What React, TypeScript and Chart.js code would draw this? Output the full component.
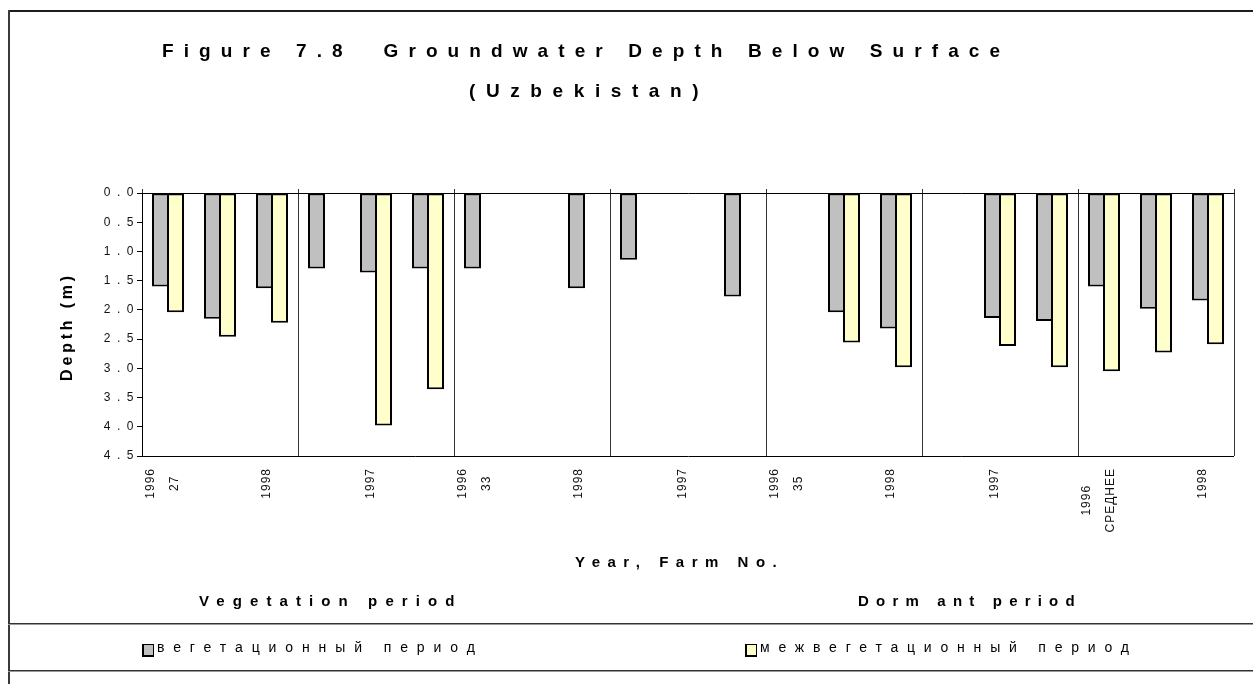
import { useEffect, useRef } from 'react';
import { Chart, registerables } from 'chart.js';

Chart.register(...registerables);

// Category axis: year labels and farm numbers (first category of each farm block)
const yearLabels = [
  '1996', '', '1998', '', '1997', '',
  '1996', '', '1998', '', '1997', '',
  '1996', '', '1998', '', '1997', '',
  '1996', '', '1998',
];
const farmLabels = [
  '27', '', '', '', '', '',
  '33', '', '', '', '', '',
  '35', '', '', '', '', '',
  'СРЕДНЕЕ', '', '',
];

// Groundwater depth below surface, m
const vegetationDepth = [
  1.6, 2.15, 1.63, 1.29, 1.36, 1.29,
  1.29, null, 1.63, 1.14, null, 1.77,
  null, 2.04, 2.32, null, 2.14, 2.19,
  1.6, 1.98, 1.84,
];
const dormantDepth = [
  2.04, 2.46, 2.22, null, 3.98, 3.36,
  null, null, null, null, null, null,
  null, 2.56, 2.98, null, 2.62, 2.98,
  3.05, 2.73, 2.59,
];

const depthTicks = [0, 0.5, 1, 1.5, 2, 2.5, 3, 3.5, 4, 4.5];
const seriesNames = ['вегетационный период', 'межвегетационный период'];

const titleLines = ['Figure 7.8  Groundwater Depth Below Surface', '(Uzbekistan)'];
const axisTitleX = 'Year, Farm No.';
const axisTitleY = 'Depth (m)';
const periodNames = ['Vegetation period', 'Dorm ant period'];

const FONT = '"Liberation Sans", Arial, sans-serif';
const GREY = '#c0c0c0';
const CREAM = '#ffffcc';

const categoryLabels = yearLabels.map((y, i) => (farmLabels[i] ? [y, farmLabels[i]] : y));

// Wide tracking for the value-axis tick text
const spacingPlugin = {
  id: 'spacing',
  beforeDraw(chart: any) {
    chart.ctx.letterSpacing = '6.5px';
  },
  afterDraw(chart: any) {
    chart.ctx.letterSpacing = '0px';
  },
};

// Rotated value-axis title, centred on the plot height
const depthTitlePlugin = {
  id: 'depthTitle',
  afterDraw(chart: any) {
    const { ctx, chartArea } = chart;
    ctx.save();
    ctx.letterSpacing = '3.8px';
    ctx.font = `bold 16px ${FONT}`;
    ctx.fillStyle = '#000';
    ctx.textAlign = 'center';
    ctx.textBaseline = 'middle';
    ctx.translate(68, (chartArea.top + chartArea.bottom) / 2 + 2);
    ctx.rotate(-Math.PI / 2);
    ctx.fillText(axisTitleY, 0, 0);
    ctx.restore();
  },
};

// Vertical category labels under the plot, each label block centred on its longest line
const categoryLabelPlugin = {
  id: 'categoryLabels',
  afterDraw(chart: any) {
    const { ctx, chartArea } = chart;
    const xs = chart.scales.x;
    ctx.save();
    ctx.letterSpacing = '1px';
    ctx.font = `12px ${FONT}`;
    ctx.fillStyle = '#111';
    ctx.textAlign = 'center';
    ctx.textBaseline = 'middle';
    (chart.data.labels as (string | string[])[]).forEach((lab, i) => {
      const lines = (Array.isArray(lab) ? lab : [lab]).filter(Boolean);
      if (!lines.length) return;
      const block = Math.max(...lines.map((t) => ctx.measureText(t).width));
      const cy = chartArea.bottom + 12 + block / 2;
      const cx = xs.getPixelForValue(i) - 5;
      lines.forEach((t, k) => {
        ctx.save();
        ctx.translate(cx + (k - (lines.length - 1) / 2) * 24, cy);
        ctx.rotate(-Math.PI / 2);
        ctx.fillText(t, 0, 0);
        ctx.restore();
      });
    });
    ctx.restore();
  },
};

function GroundwaterChart() {
  const ref = useRef<HTMLCanvasElement>(null);

  useEffect(() => {
    if (!ref.current) return;
    const chart = new Chart(ref.current, {
      type: 'bar',
      data: {
        labels: categoryLabels,
        datasets: [
          {
            label: seriesNames[0],
            data: vegetationDepth,
            backgroundColor: GREY,
            borderColor: '#000',
            borderWidth: 2,
            borderSkipped: false,
            categoryPercentage: 0.577,
            barPercentage: 1.133,
          },
          {
            label: seriesNames[1],
            data: dormantDepth,
            backgroundColor: CREAM,
            borderColor: '#000',
            borderWidth: 2,
            borderSkipped: false,
            categoryPercentage: 0.577,
            barPercentage: 1.133,
          },
        ],
      },
      options: {
        responsive: false,
        animation: false,
        events: [],
        layout: { padding: { left: 20, top: 189, right: 19, bottom: 228 } },
        plugins: {
          legend: { display: false },
          title: { display: false },
          tooltip: { enabled: false },
        },
        scales: {
          x: {
            position: 'top',
            offset: true,
            afterFit: (s: any) => {
              s.height = 4;
            },
            ticks: { display: false },
            grid: {
              offset: true,
              color: (c: any) =>
                c.type !== 'tick' || c.index % 3 === 0 ? '#333' : 'rgba(0,0,0,0)',
              tickLength: 4,
              lineWidth: 1,
            },
            border: { color: '#000', width: 1 },
          },
          y: {
            reverse: true,
            min: 0,
            max: 4.5,
            afterBuildTicks: (s: any) => {
              s.ticks = depthTicks.map((v) => ({ value: v }));
            },
            afterFit: (s: any) => {
              s.width = 122;
            },
            ticks: {
              callback: (v: any) => Number(v).toFixed(1),
              font: { family: FONT, size: 12 },
              color: '#111',
              padding: -3,
            },
            grid: {
              color: (c: any) => (c.tick && c.tick.value === 4.5 ? '#000' : 'rgba(0,0,0,0)'),
              tickColor: '#000',
              tickLength: 5,
              lineWidth: 1,
            },
            border: { color: '#000', width: 1 },
            title: { display: false },
          },
        },
      },
      plugins: [spacingPlugin, depthTitlePlugin, categoryLabelPlugin],
    } as any);
    return () => chart.destroy();
  }, []);

  return (
    <canvas
      ref={ref}
      width={1253}
      height={684}
      style={{ position: 'absolute', left: 0, top: 0 }}
    />
  );
}

function Text(props: {
  text: string;
  left: number;
  top: number;
  size: number;
  spacing: number;
  bold?: boolean;
}) {
  return (
    <div
      style={{
        position: 'absolute',
        left: props.left,
        top: props.top,
        fontSize: props.size,
        lineHeight: `${props.size}px`,
        fontWeight: props.bold ? 'bold' : 'normal',
        letterSpacing: props.spacing,
        whiteSpace: 'pre',
      }}
    >
      {props.text}
    </div>
  );
}

function Rule(props: { left: number; top: number; width: number; height: number; color: string }) {
  return (
    <div
      style={{
        position: 'absolute',
        left: props.left,
        top: props.top,
        width: props.width,
        height: props.height,
        background: props.color,
      }}
    />
  );
}

function Swatch(props: { left: number; color: string }) {
  return (
    <div
      style={{
        position: 'absolute',
        left: props.left,
        top: 644,
        width: 9,
        height: 10,
        background: props.color,
        border: '1px solid #000',
        borderLeftWidth: 2,
        borderBottomWidth: 2,
      }}
    />
  );
}

export default function App() {
  return (
    <div
      style={{
        position: 'fixed',
        left: 0,
        top: 0,
        width: 1253,
        height: 684,
        overflow: 'hidden',
        background: '#fff',
        fontFamily: FONT,
        color: '#000',
      }}
    >
      <GroundwaterChart />

      {/* frame */}
      <Rule left={8} top={10} width={1245} height={2} color="#1c1c1c" />
      <Rule left={8} top={10} width={2} height={674} color="#3a3a3a" />
      <Rule left={8} top={623} width={1245} height={1} color="#333" />
      <Rule left={8} top={624} width={1245} height={1} color="#999" />
      <Rule left={8} top={670} width={1245} height={1} color="#333" />
      <Rule left={8} top={671} width={1245} height={1} color="#999" />

      <Text text={titleLines[0]} left={162} top={41} size={19} spacing={10.1} bold />
      <Text text={titleLines[1]} left={469} top={81} size={19} spacing={10.6} bold />
      <Text text={axisTitleX} left={575} top={554} size={15} spacing={7.5} bold />
      <Text text={periodNames[0]} left={199} top={593} size={15} spacing={8.1} bold />
      <Text text={periodNames[1]} left={858} top={593} size={15} spacing={7.2} bold />

      <Swatch left={142} color={GREY} />
      <Text text={seriesNames[0]} left={157} top={640} size={14} spacing={8.9} />
      <Swatch left={745} color={CREAM} />
      <Text text={seriesNames[1]} left={760} top={640} size={14} spacing={8.8} />
    </div>
  );
}
